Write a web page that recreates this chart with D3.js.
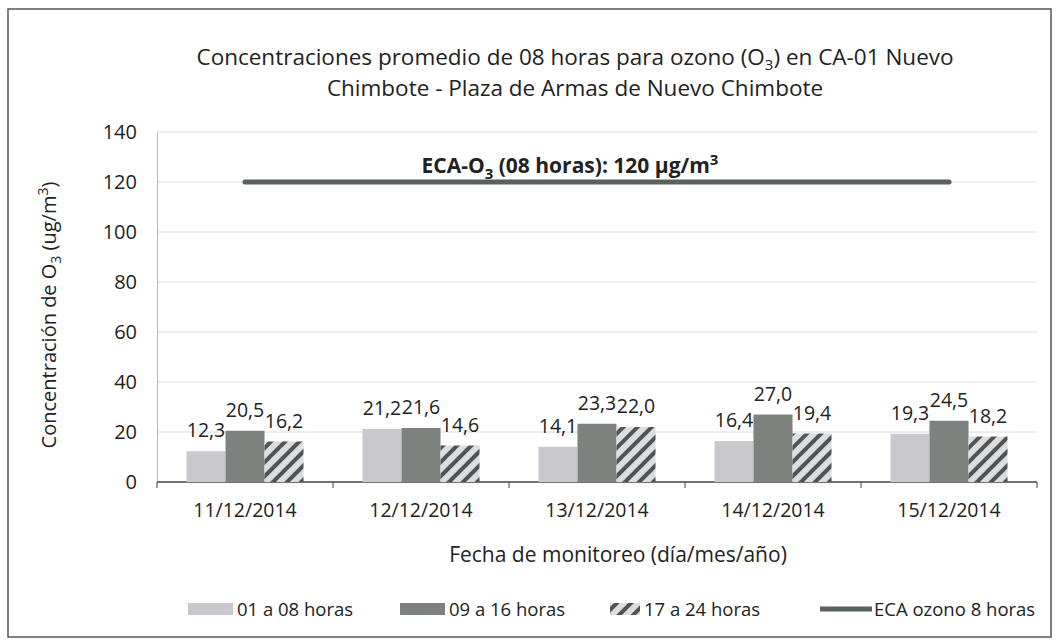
<!DOCTYPE html>
<html>
<head>
<meta charset="utf-8">
<script src="https://cdn.jsdelivr.net/npm/d3@7"></script>
<style>
  body { margin: 0; background: #fff; }
  text { font-family: "Open Sans", sans-serif; fill: #222; }
</style>
</head>
<body>
<div id="chart"></div>
<script>
// data
const fechas = ["11/12/2014", "12/12/2014", "13/12/2014", "14/12/2014", "15/12/2014"];
const series = ["01 a 08 horas", "09 a 16 horas", "17 a 24 horas"];
const h01a08 = [12.3, 21.2, 14.1, 16.4, 19.3];
const h09a16 = [20.5, 21.6, 23.3, 27.0, 24.5];
const h17a24 = [16.2, 14.6, 22.0, 19.4, 18.2];
const ecaOzono = [120, 120, 120, 120, 120];
const yTicks = [0, 20, 40, 60, 80, 100, 120, 140];

const WIDTH = 1059, HEIGHT = 640;
const margin = {left: 157, right: 22, top: 132, bottom: 158};

const svg = d3.select("#chart").append("svg")
  .attr("width", WIDTH)
  .attr("height", HEIGHT);

// hatch for the third series
const defs = svg.append("defs");
const pat = defs.append("pattern")
  .attr("id", "hatch")
  .attr("patternUnits", "userSpaceOnUse")
  .attr("width", 10).attr("height", 10)
  .attr("patternTransform", "rotate(45)");
pat.append("rect").attr("width", 10).attr("height", 10).attr("fill", "#dcdde0");
pat.append("rect").attr("x", 0).attr("width", 4).attr("height", 10).attr("fill", "#505452");

// outer frame
svg.append("rect")
  .attr("x", 8).attr("y", 9)
  .attr("width", WIDTH - 16).attr("height", HEIGHT - 12)
  .attr("fill", "none").attr("stroke", "#555").attr("stroke-width", 1.5);

const x0 = d3.scaleBand()
  .domain(fechas)
  .range([margin.left, WIDTH - margin.right])
  .paddingInner(0.335)
  .paddingOuter(0.1675);

const x1 = d3.scaleBand()
  .domain(series)
  .range([0, x0.bandwidth()]);

const y = d3.scaleLinear()
  .domain([0, 140])
  .range([HEIGHT - margin.bottom, margin.top]);

const fills = {"01 a 08 horas": "#c9c9cd", "09 a 16 horas": "#7d827e", "17 a 24 horas": "url(#hatch)"};
const fmt = v => d3.format(".1f")(v).replace(".", ",");

// grid
svg.append("g")
  .selectAll("line")
  .data(yTicks.slice(1))
  .join("line")
  .attr("x1", margin.left).attr("x2", WIDTH - margin.right)
  .attr("y1", d => y(d)).attr("y2", d => y(d))
  .attr("stroke", "#dcdcdc").attr("stroke-width", 1);

// y axis
const yAxis = svg.append("g")
  .attr("transform", "translate(" + margin.left + ",0)")
  .call(d3.axisLeft(y).tickValues(yTicks).tickSize(0).tickPadding(20));
yAxis.select(".domain").attr("stroke", "#bbb");
yAxis.selectAll("text").style("font-size", "20px").attr("fill", "#222");

// x axis
const step = x0.step();
const xAxis = svg.append("g")
  .attr("transform", "translate(0," + y(0) + ")");
xAxis.append("line")
  .attr("x1", margin.left).attr("x2", WIDTH - margin.right)
  .attr("stroke", "#444").attr("stroke-width", 1.5);
xAxis.selectAll(".tk")
  .data(d3.range(fechas.length + 1))
  .join("line")
  .attr("class", "tk")
  .attr("x1", i => margin.left + i * step).attr("x2", i => margin.left + i * step)
  .attr("y1", 0).attr("y2", 6)
  .attr("stroke", "#444");
xAxis.selectAll(".lbl")
  .data(fechas)
  .join("text")
  .attr("class", "lbl")
  .attr("x", d => x0(d) + x0.bandwidth() / 2)
  .attr("y", 35)
  .attr("text-anchor", "middle")
  .style("font-size", "19.5px")
  .text(d => d);

// bars
const rows = fechas.map((f, i) => ({fecha: f, vals: [h01a08[i], h09a16[i], h17a24[i]]}));
const grp = svg.append("g").selectAll("g")
  .data(rows)
  .join("g")
  .attr("transform", d => "translate(" + x0(d.fecha) + ",0)");

grp.selectAll("rect")
  .data(d => d.vals.map((v, j) => ({s: series[j], v: v})))
  .join("rect")
  .attr("x", d => x1(d.s))
  .attr("y", d => y(d.v))
  .attr("width", x1.bandwidth())
  .attr("height", d => y(0) - y(d.v))
  .attr("fill", d => fills[d.s]);

grp.selectAll("text")
  .data(d => d.vals.map((v, j) => ({s: series[j], v: v})))
  .join("text")
  .attr("x", d => x1(d.s) + x1.bandwidth() / 2)
  .attr("y", d => y(d.v) - 14)
  .attr("text-anchor", "middle")
  .style("font-size", "19.5px")
  .text(d => fmt(d.v));

// ECA line
const line = d3.line()
  .x((d, i) => x0(fechas[i]) + x0.bandwidth() / 2)
  .y(d => y(d));
svg.append("path")
  .datum(ecaOzono)
  .attr("d", line)
  .attr("fill", "none")
  .attr("stroke", "#58635e")
  .attr("stroke-width", 5)
  .attr("stroke-linecap", "round");

const eca = svg.append("text")
  .attr("x", 570)
  .attr("y", y(120) - 9)
  .attr("text-anchor", "middle")
  .style("font-size", "21px")
  .style("font-weight", "bold");
eca.append("tspan").text("ECA-O");
eca.append("tspan").attr("dy", 6).style("font-size", "15px").text("3");
eca.append("tspan").attr("dy", -6).text(" (08 horas):  120 µg/m");
eca.append("tspan").attr("dy", -8).style("font-size", "15px").text("3");

// title
const title = svg.append("g").attr("text-anchor", "middle").style("font-size", "22.5px");
const t1 = title.append("text").attr("x", 575).attr("y", 65);
t1.append("tspan").text("Concentraciones promedio de 08 horas para ozono (O");
t1.append("tspan").attr("dy", 5).style("font-size", "15px").text("3");
t1.append("tspan").attr("dy", -5).text(") en CA-01 Nuevo");
title.append("text").attr("x", 575).attr("y", 96).text("Chimbote - Plaza de Armas de Nuevo Chimbote");

// y title
const yt = svg.append("text")
  .attr("transform", "translate(56," + 315 + ") rotate(-90)")
  .attr("text-anchor", "middle")
  .style("font-size", "20px");
yt.append("tspan").text("Concentración de O");
yt.append("tspan").attr("dy", 5).style("font-size", "14px").text("3");
yt.append("tspan").attr("dy", -5).text(" (ug/m");
yt.append("tspan").attr("dy", -8).style("font-size", "14px").text("3");
yt.append("tspan").attr("dy", 8).text(")");

// x title
svg.append("text")
  .attr("x", 618).attr("y", 562)
  .attr("text-anchor", "middle")
  .style("font-size", "21px")
  .text("Fecha de monitoreo (día/mes/año)");

// legend
const legX = [188, 400, 610, 820];
const leg = svg.append("g").attr("transform", "translate(0,609)");
series.forEach((s, i) => {
  const w = i === 2 ? 30 : 45;
  leg.append("rect")
    .attr("x", legX[i]).attr("y", -6)
    .attr("width", w).attr("height", 12)
    .attr("fill", fills[s]);
  leg.append("text")
    .attr("x", legX[i] + w + 4).attr("y", 7)
    .style("font-size", "18.5px")
    .text(s);
});
leg.append("line")
  .attr("x1", legX[3]).attr("x2", legX[3] + 52)
  .attr("stroke", "#58635e").attr("stroke-width", 5);
leg.append("text")
  .attr("x", legX[3] + 54).attr("y", 7)
  .style("font-size", "18.5px")
  .text("ECA ozono 8 horas");
</script>
</body>
</html>
